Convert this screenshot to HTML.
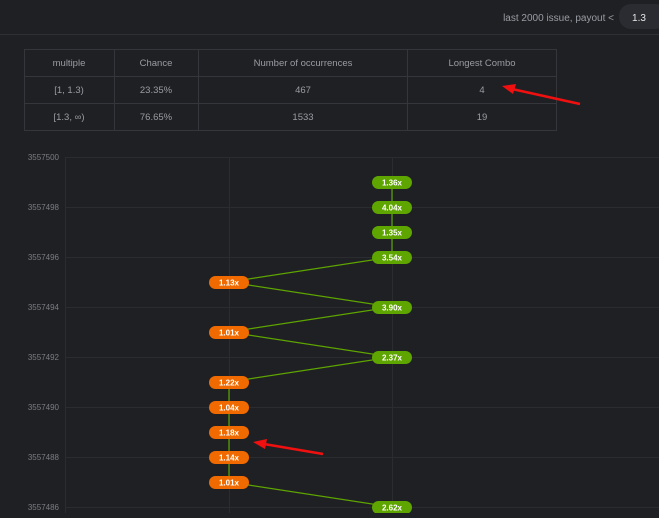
<!DOCTYPE html>
<html><head><style>
body{margin:0;width:659px;height:513px;overflow:hidden;background:#1f2024;font-family:"Liberation Sans",sans-serif;}
</style></head><body>
<svg width="659" height="513" xmlns="http://www.w3.org/2000/svg" font-family="Liberation Sans, sans-serif">
<rect width="659" height="513" fill="#1f2024"/>
<line x1="0" y1="34.5" x2="659" y2="34.5" stroke="#2e3035"/>
<text x="614" y="21" fill="#9a9ca3" font-size="10" text-anchor="end">last 2000 issue, payout &lt;</text>
<rect x="619" y="4" width="48" height="25" rx="12" fill="#2a2c31"/>
<text x="639" y="21" fill="#e8e8e8" font-size="10" text-anchor="middle">1.3</text>
<g stroke="#34363b" fill="none">
<rect x="24.5" y="49.5" width="532" height="81"/>
<line x1="24" y1="76.5" x2="557" y2="76.5"/>
<line x1="24" y1="103.5" x2="557" y2="103.5"/>
<line x1="114.5" y1="49" x2="114.5" y2="130"/>
<line x1="198.5" y1="49" x2="198.5" y2="130"/>
<line x1="407.5" y1="49" x2="407.5" y2="130"/>
</g>
<g fill="#9a9ca3" font-size="9.5" text-anchor="middle">
<text x="69" y="66">multiple</text><text x="156" y="66">Chance</text><text x="303" y="66">Number of occurrences</text><text x="482" y="66">Longest Combo</text>
<text x="69" y="93">[1, 1.3)</text><text x="156" y="93">23.35%</text><text x="303" y="93">467</text><text x="482" y="93">4</text>
<text x="69" y="120">[1.3, ∞)</text><text x="156" y="120">76.65%</text><text x="303" y="120">1533</text><text x="482" y="120">19</text>
</g>
<g stroke="#2a2c30">
<line x1="65" y1="157.5" x2="659" y2="157.5"/><line x1="65" y1="207.5" x2="659" y2="207.5"/><line x1="65" y1="257.5" x2="659" y2="257.5"/><line x1="65" y1="307.5" x2="659" y2="307.5"/><line x1="65" y1="357.5" x2="659" y2="357.5"/><line x1="65" y1="407.5" x2="659" y2="407.5"/><line x1="65" y1="457.5" x2="659" y2="457.5"/><line x1="65" y1="507.5" x2="659" y2="507.5"/>
<line x1="65.5" y1="157" x2="65.5" y2="513"/><line x1="229.5" y1="157" x2="229.5" y2="513"/><line x1="392.5" y1="157" x2="392.5" y2="513"/>
</g>
<g fill="#7b7d84" font-size="8" text-anchor="end">
<text x="59" y="160">3557500</text><text x="59" y="210">3557498</text><text x="59" y="260">3557496</text><text x="59" y="310">3557494</text><text x="59" y="360">3557492</text><text x="59" y="410">3557490</text><text x="59" y="460">3557488</text><text x="59" y="510">3557486</text>
</g>
<polyline fill="none" stroke="#5ea500" stroke-width="1.2" points="392,182 392,207 392,232 392,257 229,282 392,307 229,332 392,357 229,382 229,407 229,432 229,457 229,482 392,507"/>
<g font-size="8" font-weight="bold" fill="#fff" text-anchor="middle">
<rect x="372" y="176" width="40" height="13" rx="6.5" fill="#5ea500"/><text x="392" y="185.5">1.36x</text>
<rect x="372" y="201" width="40" height="13" rx="6.5" fill="#5ea500"/><text x="392" y="210.5">4.04x</text>
<rect x="372" y="226" width="40" height="13" rx="6.5" fill="#5ea500"/><text x="392" y="235.5">1.35x</text>
<rect x="372" y="251" width="40" height="13" rx="6.5" fill="#5ea500"/><text x="392" y="260.5">3.54x</text>
<rect x="209" y="276" width="40" height="13" rx="6.5" fill="#f06a00"/><text x="229" y="285.5">1.13x</text>
<rect x="372" y="301" width="40" height="13" rx="6.5" fill="#5ea500"/><text x="392" y="310.5">3.90x</text>
<rect x="209" y="326" width="40" height="13" rx="6.5" fill="#f06a00"/><text x="229" y="335.5">1.01x</text>
<rect x="372" y="351" width="40" height="13" rx="6.5" fill="#5ea500"/><text x="392" y="360.5">2.37x</text>
<rect x="209" y="376" width="40" height="13" rx="6.5" fill="#f06a00"/><text x="229" y="385.5">1.22x</text>
<rect x="209" y="401" width="40" height="13" rx="6.5" fill="#f06a00"/><text x="229" y="410.5">1.04x</text>
<rect x="209" y="426" width="40" height="13" rx="6.5" fill="#f06a00"/><text x="229" y="435.5">1.18x</text>
<rect x="209" y="451" width="40" height="13" rx="6.5" fill="#f06a00"/><text x="229" y="460.5">1.14x</text>
<rect x="209" y="476" width="40" height="13" rx="6.5" fill="#f06a00"/><text x="229" y="485.5">1.01x</text>
<rect x="372" y="501" width="40" height="13" rx="6.5" fill="#5ea500"/><text x="392" y="510.5">2.62x</text>
</g>
<g stroke="#f01010" stroke-width="2.5" fill="#f01010">
<line x1="580" y1="104" x2="512" y2="89"/><polygon points="502,86 516,84 513,94" stroke="none"/>
<line x1="323" y1="454" x2="264" y2="444"/><polygon points="253,442 267,439 265,449" stroke="none"/>
</g>
</svg>
</body></html>
